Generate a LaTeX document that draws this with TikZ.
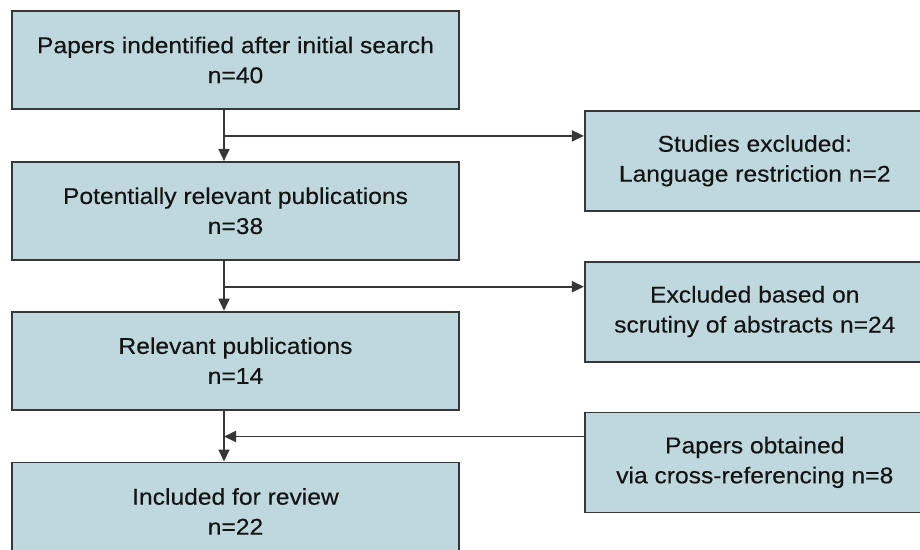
\documentclass[tikz,border=0pt]{standalone}
\usepackage{xcolor}
\usepackage{fontspec}
\setmainfont{Liberation Sans}[FakeStretch=1.08, FakeBold=0.3]
\usepackage{tikz}
\usetikzlibrary{arrows.meta, positioning}

\definecolor{boxfill}{RGB}{191,216,221}
\definecolor{boxline}{RGB}{55,55,55}

\begin{document}
\begin{tikzpicture}[
  x=1pt, y=1pt,
  box/.style={rectangle, draw=boxline, fill=boxfill, line width=1.8pt,
              align=center, text=black!92, minimum height=98pt, minimum width=447pt,
              font=\fontsize{22.8}{30}\selectfont},
  sidebox/.style={box, minimum width=340pt, minimum height=100pt},
  arrow/.style={-{Triangle[length=12pt,width=11pt]}, line width=1.8pt, draw=boxline}
]
\clip (0,0) rectangle (920,-549);

\node[box] (search) at (235.5,-60) {Papers indentified after initial search\\n=40};
\node[box, below=51pt of search]    (potential) {Potentially relevant publications\\n=38};
\node[box, below=50pt of potential] (relevant)  {Relevant publications\\n=14};
\node[box, below=51pt of relevant]  (included)  {Included for review\\n=22};

\node[sidebox, anchor=north west] (language) at ([xshift=124pt]search.south east)
  {Studies excluded:\\Language restriction n=2};
\node[sidebox, below=49pt of language] (abstracts) {Excluded based on\\scrutiny of abstracts n=24};
\node[sidebox, below=49pt of abstracts] (crossref) {Papers obtained\\via cross-referencing n=8};

% branch points on the main line
\coordinate (b1) at ([xshift=-11.5pt,yshift=-26pt]search.south);
\coordinate (b2) at ([xshift=-11.5pt,yshift=-26pt]potential.south);
\coordinate (b3) at ([xshift=-11.5pt,yshift=-26pt]relevant.south);

\draw[arrow] ([xshift=-11.5pt]search.south)    -- ([xshift=-11.5pt]potential.north);
\draw[arrow] ([xshift=-11.5pt]potential.south) -- ([xshift=-11.5pt]relevant.north);
\draw[arrow] ([xshift=-11.5pt]relevant.south)  -- ([xshift=-11.5pt]included.north);

\draw[arrow] (b1) -- (b1 -| language.west);
\draw[arrow] (b2) -- (b2 -| abstracts.west);
\draw[arrow] (b3 -| crossref.west) -- (b3);

\end{tikzpicture}
\end{document}
